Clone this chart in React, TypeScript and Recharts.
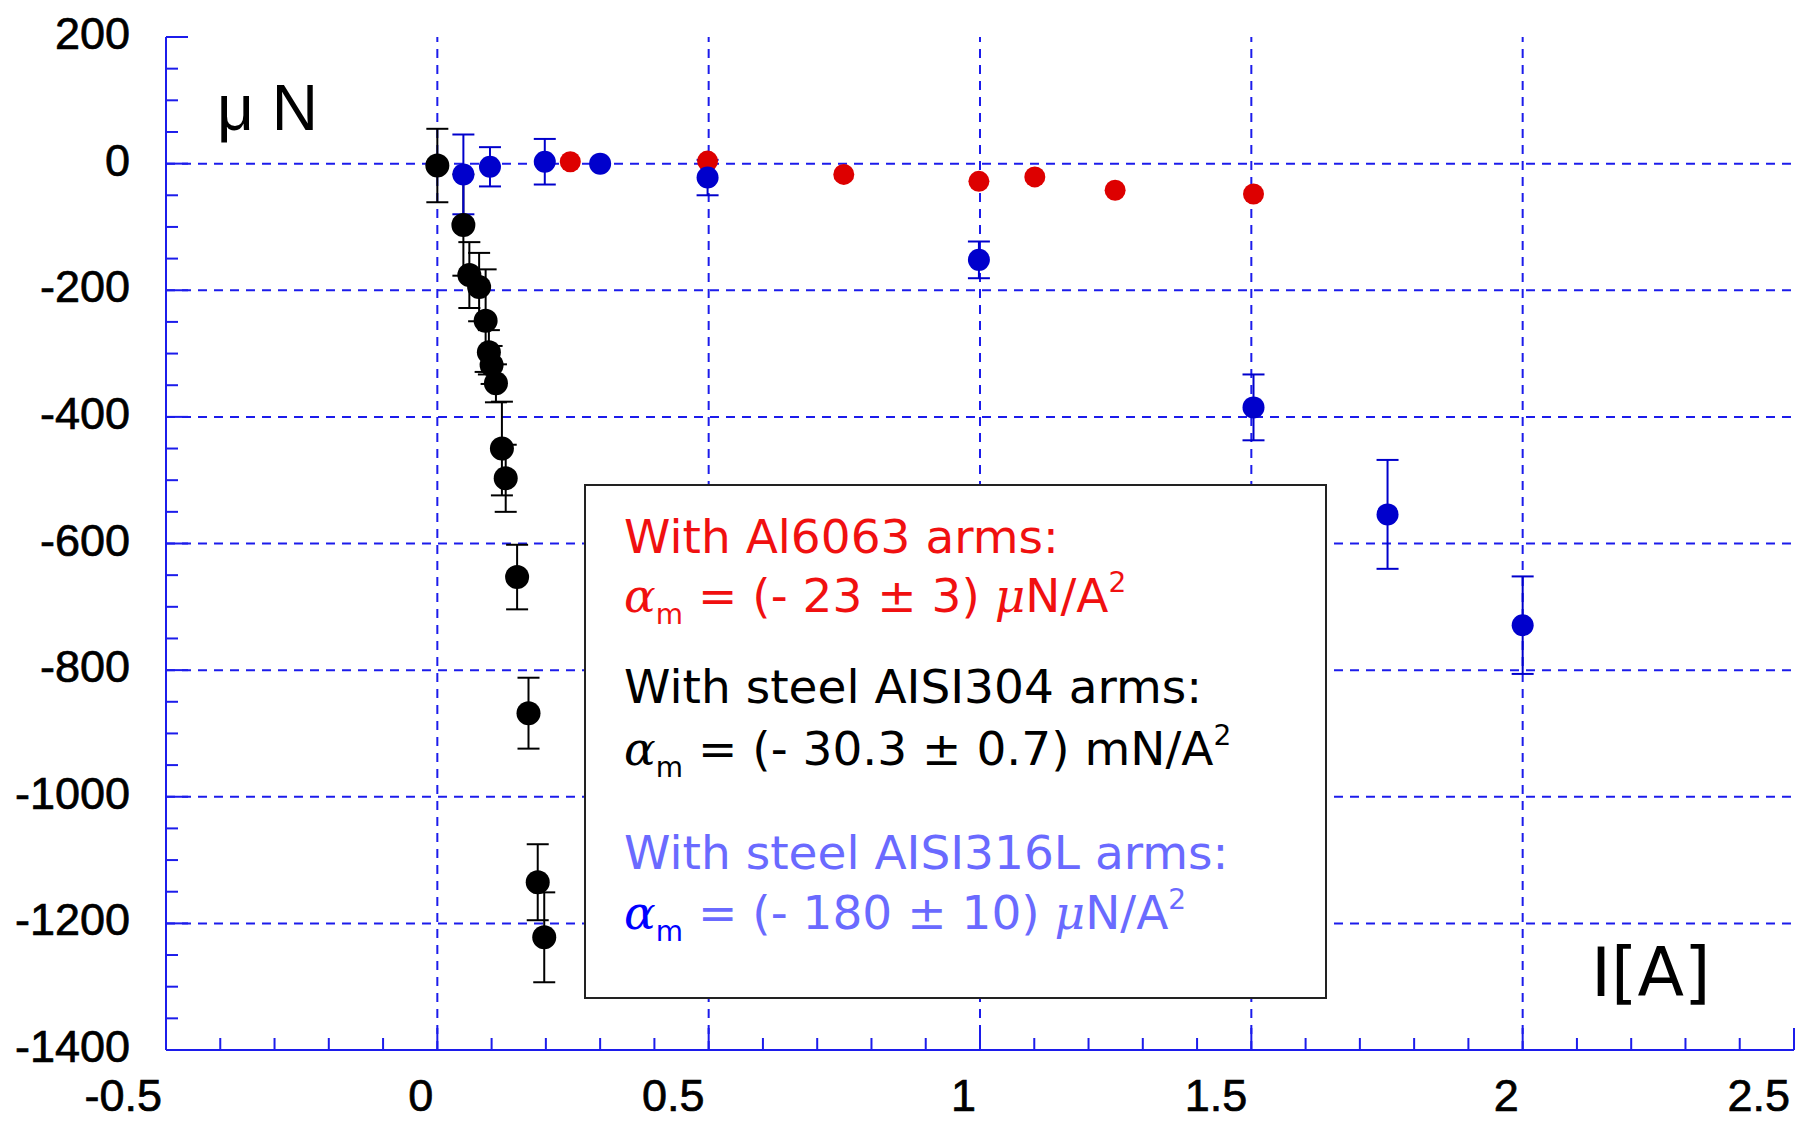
import React from 'react'
import { ScatterChart, Scatter, XAxis, YAxis, ErrorBar, ReferenceLine } from 'recharts'

const W = 1795
const H = 1123
const AXIS = '#1c1ceb'
const LABEL_FONT = '"Liberation Sans", Arial, sans-serif'
const TEXT_FONT = '"DejaVu Sans", sans-serif'

// major tick values (labelled) and the dashed grid positions
const xMajor = [-0.5, 0, 0.5, 1, 1.5, 2, 2.5]
const yMajor = [-1400, -1200, -1000, -800, -600, -400, -200, 0, 200]
const xGridValues = [0, 0.5, 1, 1.5, 2]
const yGridValues = [-1200, -1000, -800, -600, -400, -200, 0]

// steel AISI304 arms (black)
const aisi304X = [0.0, 0.048, 0.059, 0.077, 0.089, 0.095, 0.1, 0.108, 0.119, 0.126, 0.147, 0.168, 0.185, 0.197]
const aisi304Y = [-3, -97, -176, -195, -248, -298, -318, -347, -450, -497, -653, -868, -1135, -1222]
const aisi304Err = [58, 80, 52, 54, 81, 35, 30, 30, 74, 53, 51, 56, 60, 71]

// Al6063 arms (red)
const al6063X = [0.245, 0.498, 0.749, 0.998, 1.101, 1.249, 1.504]
const al6063Y = [3, 4, -17, -28, -21, -42, -48]

// steel AISI316L arms (blue)
const aisi316X = [0.048, 0.097, 0.198, 0.3, 0.498, 0.998, 1.504, 1.751, 2.0]
const aisi316Y = [-17, -5, 3, 0, -22, -152, -385, -554, -729]
const aisi316Err = [63, 31, 36, 0, 28, 29, 52, 86, 77]

const steps = (from: number, to: number, step: number) => {
  const out: number[] = []
  for (let v = from; v <= to + step / 2; v += step) out.push(Math.round(v * 1000) / 1000)
  return out
}
const xTicks = steps(-0.5, 2.5, 0.1)
const yTicks = steps(-1400, 200, 50)

const aisi304 = aisi304X.map((x, i) => ({ x, y: aisi304Y[i], err: aisi304Err[i] }))
const al6063 = al6063X.map((x, i) => ({ x, y: al6063Y[i] }))
const aisi316 = aisi316X.map((x, i) => ({ x, y: aisi316Y[i], err: aisi316Err[i] }))

// eslint-disable-next-line @typescript-eslint/no-explicit-any
const BottomTick = ({ x, y, payload }: any) => {
  const major = xMajor.includes(payload.value)
  return (
    <g>
      <line x1={x} y1={y} x2={x} y2={y - (major ? 22 : 12)} stroke={AXIS} strokeWidth={2} />
      {major && (
        <text x={x - 4} y={y + 61} textAnchor="end" fontSize={45} fontFamily={LABEL_FONT}
          fill="#000" stroke="#000" strokeWidth={0.7}>
          {String(payload.value)}
        </text>
      )}
    </g>
  )
}

// eslint-disable-next-line @typescript-eslint/no-explicit-any
const TopTick = ({ x, y, payload }: any) => {
  const major = xMajor.includes(payload.value)
  return <line x1={x} y1={y} x2={x} y2={y + (major ? 22 : 12)} stroke={AXIS} strokeWidth={2} />
}

// eslint-disable-next-line @typescript-eslint/no-explicit-any
const LeftTick = ({ x, y, payload }: any) => {
  const major = yMajor.includes(payload.value)
  return (
    <g>
      <line x1={x} y1={y} x2={x + (major ? 22 : 12)} y2={y} stroke={AXIS} strokeWidth={2} />
      {major && (
        <text x={x - 36} y={y + 12} textAnchor="end" fontSize={45} fontFamily={LABEL_FONT}
          fill="#000" stroke="#000" strokeWidth={0.7}>
          {String(payload.value)}
        </text>
      )}
    </g>
  )
}

// eslint-disable-next-line @typescript-eslint/no-explicit-any
const RightTick = ({ x, y, payload }: any) => {
  const major = yMajor.includes(payload.value)
  return <line x1={x} y1={y} x2={x - (major ? 22 : 12)} y2={y} stroke={AXIS} strokeWidth={2} />
}

const dot = (fill: string, r: number) =>
  // eslint-disable-next-line @typescript-eslint/no-explicit-any
  (p: any) => <circle cx={p.cx} cy={p.cy} r={r} fill={fill} />

const axisLine = { stroke: AXIS, strokeWidth: 2 }

export default function App() {
  return (
    <div style={{ position: 'absolute', left: 0, top: 0, width: W, height: H, background: '#fff' }}>
      <ScatterChart width={W} height={H} margin={{ top: 37, right: 1, bottom: 0, left: 0 }}>
        <XAxis
          dataKey="x" type="number" domain={[-0.5, 2.5]} ticks={xTicks} interval={0}
          height={73} tickSize={0} tickMargin={0} axisLine={axisLine} tickLine={false}
          tick={<BottomTick />} allowDataOverflow
        />
        <XAxis
          xAxisId="top" orientation="top" type="number" domain={[-0.5, 2.5]} ticks={xTicks} interval={0}
          height={0} tickSize={0} tickMargin={0} axisLine={axisLine} tickLine={false}
          tick={<TopTick />} allowDataOverflow
        />
        <YAxis
          dataKey="y" type="number" domain={[-1400, 200]} ticks={yTicks} interval={0}
          width={166} tickSize={0} tickMargin={0} axisLine={axisLine} tickLine={false}
          tick={<LeftTick />} allowDataOverflow
        />
        <YAxis
          yAxisId="right" orientation="right" type="number" domain={[-1400, 200]} ticks={yTicks} interval={0}
          width={0} tickSize={0} tickMargin={0} axisLine={axisLine} tickLine={false}
          tick={<RightTick />} allowDataOverflow
        />
        {xGridValues.map((v) => (
          <ReferenceLine key={'gx' + v} x={v} stroke={AXIS} strokeWidth={2} strokeDasharray="9 7" />
        ))}
        {yGridValues.map((v) => (
          <ReferenceLine key={'gy' + v} y={v} stroke={AXIS} strokeWidth={2} strokeDasharray="9 7" />
        ))}
        <Scatter data={aisi304} shape={dot('#000', 12)} isAnimationActive={false}>
          <ErrorBar dataKey="err" direction="y" width={11} stroke="#000" strokeWidth={2} />
        </Scatter>
        <Scatter data={al6063} shape={dot('#dd0000', 10.5)} isAnimationActive={false} />
        <Scatter data={aisi316} shape={dot('#0000cc', 11)} isAnimationActive={false}>
          <ErrorBar dataKey="err" direction="y" width={11} stroke="#0000cc" strokeWidth={2} />
        </Scatter>
      </ScatterChart>

      <svg width={W} height={H} style={{ position: 'absolute', left: 0, top: 0, pointerEvents: 'none' }}>
        <text x={217} y={130} fontSize={64} fontFamily={LABEL_FONT} fill="#000">μ N</text>
        <text x={1591} y={996} fontSize={68} fontFamily={TEXT_FONT} fill="#000">I[A]</text>

        <rect x={585} y={485} width={741} height={513} fill="#fff" stroke="#222" strokeWidth={2} />
        <g fontFamily={TEXT_FONT} fontSize={47}>
          <text x={624} y={553} fill="#f01010">With Al6063 arms:</text>
          <text x={624} y={612} fill="#f01010">
            <tspan fontFamily="DejaVu Serif" fontStyle="italic">α</tspan>
            <tspan fontSize={28} dy={12}>m</tspan>
            <tspan dy={-12}> = (- 23 ± 3) </tspan>
            <tspan fontFamily="DejaVu Serif" fontStyle="italic">μ</tspan>
            <tspan>N/A</tspan>
            <tspan fontSize={28} dy={-20}>2</tspan>
          </text>
          <text x={624} y={703} fill="#000">With steel AISI304 arms:</text>
          <text x={624} y={765} fill="#000">
            <tspan fontFamily="DejaVu Serif" fontStyle="italic">α</tspan>
            <tspan fontSize={28} dy={12}>m</tspan>
            <tspan dy={-12}> = (- 30.3 ± 0.7) mN/A</tspan>
            <tspan fontSize={28} dy={-20}>2</tspan>
          </text>
          <text x={624} y={869} fill="#6a6aff">With steel AISI316L arms:</text>
          <text x={624} y={929} fill="#6a6aff">
            <tspan fontFamily="DejaVu Serif" fontStyle="italic" fill="#0000ff">α</tspan>
            <tspan fontSize={28} dy={12} fill="#0000ff">m</tspan>
            <tspan dy={-12}> = (- 180 ± 10) </tspan>
            <tspan fontFamily="DejaVu Serif" fontStyle="italic">μ</tspan>
            <tspan>N/A</tspan>
            <tspan fontSize={28} dy={-20}>2</tspan>
          </text>
        </g>
      </svg>
    </div>
  )
}
